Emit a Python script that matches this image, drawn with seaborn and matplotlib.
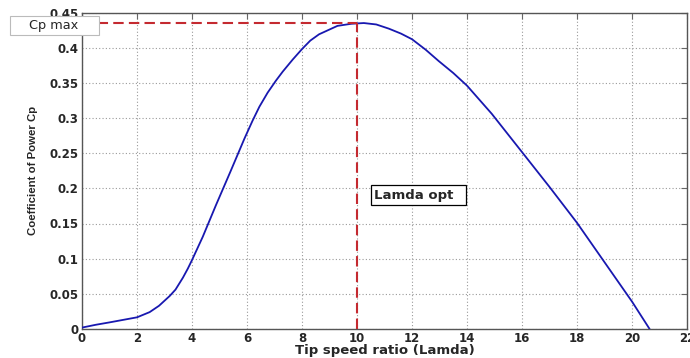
import matplotlib
matplotlib.use("Agg")
import matplotlib.pyplot as plt
from matplotlib.patches import Rectangle
import seaborn as sns
import pandas as pd

# Data
tsr = [0, 0.5, 1, 1.5, 2, 2.46, 2.8, 3.19, 3.4, 3.67, 3.85, 4.0, 4.39, 4.87,
       5.4, 5.91, 6.2, 6.45, 6.75, 7.05, 7.3, 7.66, 8.0, 8.3, 8.62, 9.29, 9.8,
       10.25, 10.7, 11.16, 11.6, 12, 12.5, 12.97, 13.5, 14, 14.45, 14.9, 15.87,
       17, 18, 19, 20, 20.64]
cp = [0.002, 0.006, 0.0094, 0.013, 0.0166, 0.024, 0.033, 0.047, 0.056, 0.073,
      0.086, 0.098, 0.131, 0.176, 0.224, 0.271, 0.296, 0.316, 0.336, 0.353,
      0.366, 0.383, 0.398, 0.41, 0.419, 0.431, 0.434, 0.435, 0.433, 0.427,
      0.42, 0.412, 0.397, 0.381, 0.364, 0.346, 0.326, 0.306, 0.258, 0.202,
      0.151, 0.095, 0.039, 0.0]
cp_max = 0.435
lamda_opt = 10
x_ticks = list(range(0, 23, 2))
y_ticks = [0, 0.05, 0.1, 0.15, 0.2, 0.25, 0.3, 0.35, 0.4, 0.45]
y_tick_labels = ["0", "0.05", "0.1", "0.15", "0.2", "0.25", "0.3", "0.35", "0.4", "0.45"]

sns.set_style("white")
plt.rcParams['font.family'] = ['DejaVu Sans']

fig = plt.figure(figsize=(6.9, 3.58), dpi=100)
ax = fig.add_axes([82/690, 1 - 329/358, 605/690, (329 - 12.5)/358])

df = pd.DataFrame({"tsr": tsr, "cp": cp})
sns.lineplot(data=df, x="tsr", y="cp", ax=ax, color="#1818b0", linewidth=1.3, zorder=3)

red = "#c42a30"
ax.plot([0, lamda_opt], [cp_max, cp_max], color=red, linestyle=(0, (5, 2.5)),
        linewidth=1.5, zorder=4)
ax.plot([lamda_opt, lamda_opt], [0, cp_max], color=red, linestyle=(0, (5, 2.5)),
        linewidth=1.5, zorder=4)

ax.set_xlim(0, 22)
ax.set_ylim(0, 0.45)
ax.set_xticks(x_ticks)
ax.set_yticks(y_ticks)
ax.set_yticklabels(y_tick_labels)
ax.grid(True, color="#9a9a9a", linestyle=(0, (1, 2)), linewidth=0.8)
ax.tick_params(direction="in", length=4, width=0.8, color="#666666",
               top=True, right=True, labelsize=8.5, pad=2.5)
for lbl in ax.get_xticklabels() + ax.get_yticklabels():
    lbl.set_fontweight("bold")
for s in ax.spines.values():
    s.set_color("#555555")
    s.set_linewidth(1.0)

ax.set_xlabel("Tip speed ratio (Lamda)", fontsize=9.5, fontweight="bold", labelpad=-1)
ax.set_ylabel("Coefficient of Power Cp", fontsize=8.2, fontweight="bold", labelpad=8,
              family=['Liberation Sans', 'DejaVu Sans'])

# "Cp max" box (in figure pixels)
fig.patches.append(Rectangle((10/690, 1 - 35/358), 89/690, 18.5/358,
                             transform=fig.transFigure, fc="white", ec="#bbbbbb",
                             lw=0.8, zorder=1))
fig.text(54/690, 1 - 26/358, "Cp max", fontsize=9.3, ha="center", va="center", zorder=2)

# "Lamda opt" box
ax.add_patch(Rectangle((10.51, 0.177), 3.44, 0.0273, fc="white", ec="black",
                       lw=0.9, zorder=5))
ax.text(10.62, 0.1905, "Lamda opt", fontsize=9.5, fontweight="bold", ha="left",
        va="center", zorder=6)

fig.savefig("out.png", dpi=100)
